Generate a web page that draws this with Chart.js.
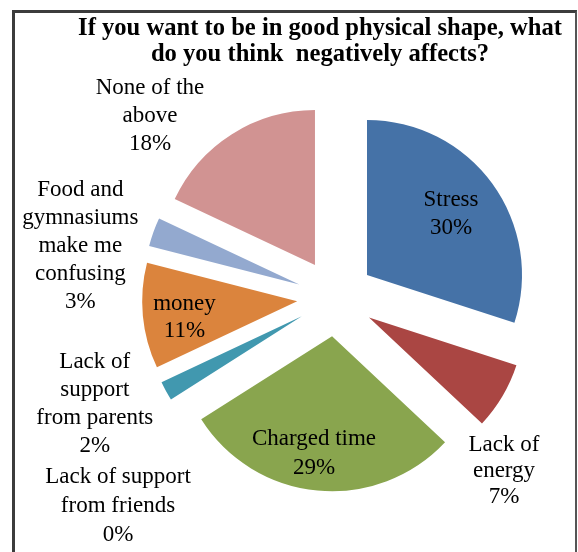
<!DOCTYPE html>
<html>
<head>
<meta charset="utf-8">
<script src="https://cdn.jsdelivr.net/npm/chart.js@4"></script>
<style>
	html, body {
		margin: 0;
		padding: 0;
		background: #fff;
	}
	#wrap {
		position: relative;
		width: 578px;
		height: 552px;
		overflow: hidden;
	}
	#frame {
		position: absolute;
		left: 12px;
		top: 10px;
		width: 560px;
		height: 600px;
		border-left: 3px solid #3c3c3c;
		border-top: 3px solid #3c3c3c;
		border-right: 2px solid #555;
	}
	#title {
		position: absolute;
		left: 62px;
		top: 14px;
		width: 516px;
		text-align: center;
		font: bold 24.6px "Liberation Serif", "Times New Roman", serif;
		line-height: 26px;
		color: #000;
	}
	#pie {
		position: absolute;
		left: 0;
		top: 0;
	}
</style>
</head>
<body>
<div id="wrap">
	<div id="frame"></div>
	<canvas id="pie" width="578" height="552"></canvas>
	<div id="title">If you want to be in good physical shape, what<br>do you think&nbsp; negatively affects?</div>
</div>
<script>
// Survey answers, in percent
const categories = [
	["Stress"],
	["Lack of", "energy"],
	["Charged time"],
	["Lack of support", "from friends"],
	["Lack of", "support", "from parents"],
	["money"],
	["Food and", "gymnasiums", "make me", "confusing"],
	["None of the", "above"],
];
const percents = [30, 7, 29, 0, 2, 11, 3, 18];
const sliceColors = [
	"#4572A7",
	"#AA4643",
	"#89A54E",
	"#71588F",
	"#4198AF",
	"#DB843D",
	"#93A9CF",
	"#D19392",
];

// how far each slice is pulled away from the centre
const EXPLODE = 38.7;

// where each label sits: k = fraction of radius along the slice bisector,
// dx/dy = extra shift in pixels from the pulled-out slice tip
const labelSpots = [
	{ k: 0.67, dx: 0, dy: 0, lh: 28 },
	{ k: 0, dx: 135, dy: 154, lh: 26 },
	{ k: 0.76, dx: -7, dy: 0, lh: 29 },
	{ k: 0, dx: -185, dy: 188, lh: 29 },
	{ k: 0, dx: -207, dy: 88, lh: 28 },
	{ k: 0.74, dx: 1.5, dy: 5, lh: 27 },
	{ k: 0, dx: -219, dy: -39, lh: 28 },
	{ k: 0, dx: -165, dy: -149, lh: 28 },
];

// draw every slice shifted outwards along its bisector
const explodePlugin = {
	id: "explode",
	beforeDatasetDraw(chart, args) {
		const ctx = chart.ctx;
		args.meta.data.forEach(function (arc) {
			const mid = (arc.startAngle + arc.endAngle) / 2;
			ctx.save();
			ctx.translate(Math.cos(mid) * EXPLODE, Math.sin(mid) * EXPLODE);
			arc.draw(ctx);
			ctx.restore();
		});
		return false;
	},
};

// category name + percentage next to / inside each slice
const sliceLabels = {
	id: "sliceLabels",
	afterDatasetsDraw(chart) {
		const ctx = chart.ctx;
		const arcs = chart.getDatasetMeta(0).data;
		ctx.save();
		ctx.font = '23px "Liberation Serif", "Times New Roman", serif';
		ctx.fillStyle = "#000";
		ctx.textAlign = "center";
		ctx.textBaseline = "middle";
		arcs.forEach(function (arc, i) {
			const spot = labelSpots[i];
			const mid = (arc.startAngle + arc.endAngle) / 2;
			const cx = Math.cos(mid);
			const cy = Math.sin(mid);
			const x = arc.x + cx * (EXPLODE + spot.k * arc.outerRadius) + spot.dx;
			const y = arc.y + cy * (EXPLODE + spot.k * arc.outerRadius) + spot.dy;
			const lines = categories[i].concat([percents[i] + "%"]);
			const top = y - ((lines.length - 1) * spot.lh) / 2;
			lines.forEach(function (line, j) {
				ctx.fillText(line, x, top + j * spot.lh);
			});
		});
		ctx.restore();
	},
};

const ctx = document.getElementById("pie").getContext("2d");
const pieChart = new Chart(ctx, {
	type: "pie",
	data: {
		labels: categories,
		datasets: [
			{
				data: percents,
				backgroundColor: sliceColors,
				borderWidth: 0,
			},
		],
	},
	options: {
		responsive: false,
		animation: false,
		radius: 155,
		layout: {
			padding: { left: 100, right: 6.6, top: 50, bottom: 6.6 },
		},
		plugins: {
			legend: { display: false },
			tooltip: { enabled: false },
		},
	},
	plugins: [explodePlugin, sliceLabels],
});
</script>
</body>
</html>
